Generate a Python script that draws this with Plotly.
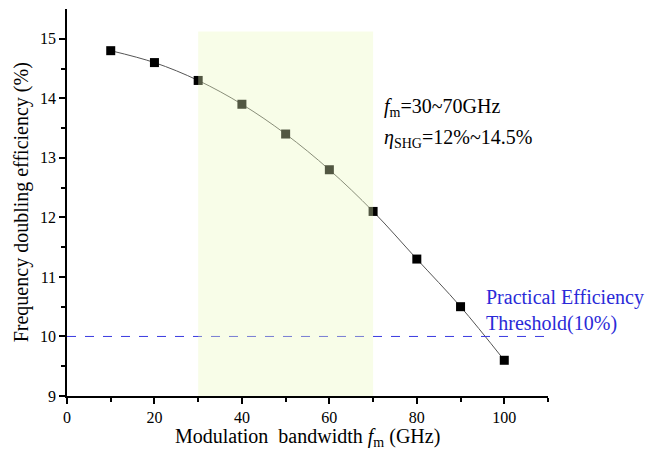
import plotly.graph_objects as go

bandwidth = [10, 20, 30, 40, 50, 60, 70, 80, 90, 100]
efficiency = [14.8, 14.6, 14.3, 13.9, 13.4, 12.8, 12.1, 11.3, 10.5, 9.6]
threshold = 10
band_range = [30, 70]
band_top = 15.12

FONT = "Liberation Serif, Times New Roman, serif"

fig = go.Figure()
fig.add_trace(go.Scatter(
    x=bandwidth, y=efficiency, mode="lines+markers",
    line=dict(color="#555555", width=1, shape="spline"),
    marker=dict(symbol="square", size=9, color="black"),
    showlegend=False,
))
fig.add_trace(go.Scatter(
    x=[0, 110], y=[threshold, threshold], mode="lines",
    line=dict(color="#3a3ae0", width=1, dash="dash"),
    showlegend=False,
))

fig.add_shape(type="rect", xref="x", yref="y",
              x0=band_range[0], x1=band_range[1], y0=9, y1=band_top,
              fillcolor="rgba(235,250,190,0.35)", line=dict(width=0), layer="above")

fig.add_annotation(x=72.0, y=13.84, xref="x", yref="y", xanchor="left", yanchor="middle",
                   text="<i>f</i><sub>m</sub>=30~70GHz", showarrow=False,
                   font=dict(family=FONT, size=20, color="black"))
fig.add_annotation(x=72.0, y=13.32, xref="x", yref="y", xanchor="left", yanchor="middle",
                   text="<i>η</i><sub>SHG</sub>=12%~14.5%", showarrow=False,
                   font=dict(family=FONT, size=20, color="black"))
fig.add_annotation(x=95.4, y=10.65, xref="x", yref="y", xanchor="left", yanchor="middle",
                   text="Practical Efficiency", showarrow=False,
                   font=dict(family=FONT, size=20, color="#2a2ad8"))
fig.add_annotation(x=95.4, y=10.22, xref="x", yref="y", xanchor="left", yanchor="middle",
                   text="Threshold(10%)", showarrow=False,
                   font=dict(family=FONT, size=20, color="#2a2ad8"))

# axis titles as paper annotations
fig.add_annotation(x=0.5, y=-0.108, xref="paper", yref="paper", xanchor="center", yanchor="middle",
                   text="Modulation  bandwidth <i>f</i><sub>m</sub> (GHz)", showarrow=False,
                   font=dict(family=FONT, size=20, color="black"))
fig.add_annotation(x=-0.094, y=0.5, xref="paper", yref="paper", xanchor="center", yanchor="middle",
                   text="Frequency doubling efficiency (%)", showarrow=False, textangle=-90,
                   font=dict(family=FONT, size=20, color="black"))

fig.update_xaxes(
    range=[0, 110], tickvals=[0, 20, 40, 60, 80, 100],
    ticks="outside", ticklen=6, tickwidth=1.5, tickcolor="black",
    minor=dict(tickvals=[10, 30, 50, 70, 90, 110], ticks="outside", ticklen=4, tickcolor="black", tickwidth=1.5),
    showline=True, linecolor="black", linewidth=1.5, showgrid=False, zeroline=False,
    tickfont=dict(family=FONT, size=16, color="black"), automargin=False,
)
fig.update_yaxes(
    range=[9, 15.5], tickvals=[9, 10, 11, 12, 13, 14, 15],
    ticks="outside", ticklen=6, tickwidth=1.5, tickcolor="black",
    minor=dict(tickvals=[9.5, 10.5, 11.5, 12.5, 13.5, 14.5], ticks="outside", ticklen=4, tickcolor="black", tickwidth=1.5),
    showline=True, linecolor="black", linewidth=1.5, showgrid=False, zeroline=False,
    tickfont=dict(family=FONT, size=16, color="black"), automargin=False,
)

fig.update_layout(
    width=654, height=451,
    margin=dict(l=59, r=114, t=1, b=63),
    plot_bgcolor="white", paper_bgcolor="white",
)

fig.write_html("out.html")
